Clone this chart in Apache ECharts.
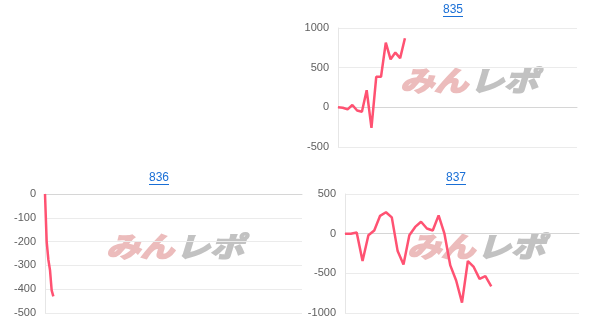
<!DOCTYPE html>
<html>
<head>
<meta charset="utf-8">
<script src="https://cdn.jsdelivr.net/npm/echarts@6/dist/echarts.min.js"></script>
<style>
html,body{margin:0;padding:0;background:#fff;}
#c{width:608px;height:334px;}
</style>
</head>
<body>
<div id="c"></div>
<script>
// Titles
var titles = ['835', '836', '837'];
// Number of x categories per chart (hidden x axis)
var catCounts = [51, 155, 41];
// Series values
var values835 = [0, -5, -25, 30, -40, -55, 215, -260, 385, 385, 815, 605, 690, 620, 870];
var values836 = [0, -200, -275, -320, -405, -430];
var values837 = [0, 0, 15, -345, -20, 40, 225, 270, 205, -220, -390, -20, 85, 150, 65, 40, 230, 0, -400, -590, -870, -345, -420, -570, -535, -665];
// Y axis ranges [min, max, interval]
var yRange835 = [-500, 1000, 500];
var yRange836 = [-500, 0, 100];
var yRange837 = [-1000, 500, 500];

var allValues = [values835, values836, values837];
var yRanges = [yRange835, yRange836, yRange837];

var FONT = '"Liberation Sans", Arial, sans-serif';
var LINK = '#1a6fd6';
var LINE = '#ff5272';

var grids = [
  {left: 338, top: 28, width: 239, height: 119},
  {left: 45, top: 194, width: 257, height: 119},
  {left: 345, top: 194, width: 234, height: 119}
];
var titlePos = [[453, 4], [159, 172], [456, 172]];
var wmPos = [[468, 80], [174, 246], [475, 246]];

function cats(n){ var a=[]; for(var i=0;i<n;i++) a.push(String(i+1)); return a; }

var xAxes = [], yAxes = [], series = [], titleOpts = [], graphics = [];
for (var k = 0; k < 3; k++) {
  xAxes.push({
    type: 'category', gridIndex: k, data: cats(catCounts[k]), boundaryGap: false,
    axisLabel: {show: false}, axisTick: {show: false},
    axisLine: {show: true, lineStyle: {color: '#d6d6d6', width: 1}},
    splitLine: {show: false}
  });
  yAxes.push({
    type: 'value', gridIndex: k, min: yRanges[k][0], max: yRanges[k][1], interval: yRanges[k][2],
    axisLine: {show: true, lineStyle: {color: '#e6e6e6'}},
    axisTick: {show: false},
    axisLabel: {color: '#606060', fontSize: 11, fontFamily: FONT, margin: 9,
      formatter: function (v) { return String(v); }},
    splitLine: {show: true, lineStyle: {color: '#ebebeb', width: 1}}
  });
  series.push({
    type: 'line', xAxisIndex: k, yAxisIndex: k, data: allValues[k],
    showSymbol: false, symbol: 'none',
    lineStyle: {color: LINE, width: 2.5}, z: 5, animation: false
  });
  var tw = titles[k].length * 0.556 * 12;
  titleOpts.push({
    text: titles[k], left: titlePos[k][0] - tw / 2, top: titlePos[k][1], padding: 0,
    textStyle: {color: LINK, fontSize: 12, fontWeight: 'normal', fontFamily: FONT}
  });
  graphics.push({
    type: 'rect', left: titlePos[k][0] - tw / 2, top: titlePos[k][1] + 12, z: 1,
    shape: {width: tw, height: 1}, style: {fill: LINK}
  });
  // watermark logo "みんレポ"
  graphics.push({
    type: 'text', x: wmPos[k][0], y: wmPos[k][1], z: 0, scaleY: 0.82, originY: 0,
    style: {text: 'みん', fill: '#ecbcbc', stroke: '#ecbcbc', lineWidth: 2.2,
      font: 'italic bold 34px "Noto Sans CJK JP"', align: 'right', verticalAlign: 'middle'}
  });
  graphics.push({
    type: 'text', x: wmPos[k][0] + 2, y: wmPos[k][1], z: 0, scaleY: 0.82, originY: 0,
    style: {text: 'レポ', fill: '#c2c2c2', stroke: '#c2c2c2', lineWidth: 2.2,
      font: 'italic bold 34px "Noto Sans CJK JP"', align: 'left', verticalAlign: 'middle'}
  });
}

var chart = echarts.init(document.getElementById('c'), null, {renderer: 'canvas'});
chart.setOption({
  animation: false,
  backgroundColor: '#fff',
  title: titleOpts,
  grid: grids,
  xAxis: xAxes,
  yAxis: yAxes,
  series: series,
  graphic: graphics
});
</script>
</body>
</html>
